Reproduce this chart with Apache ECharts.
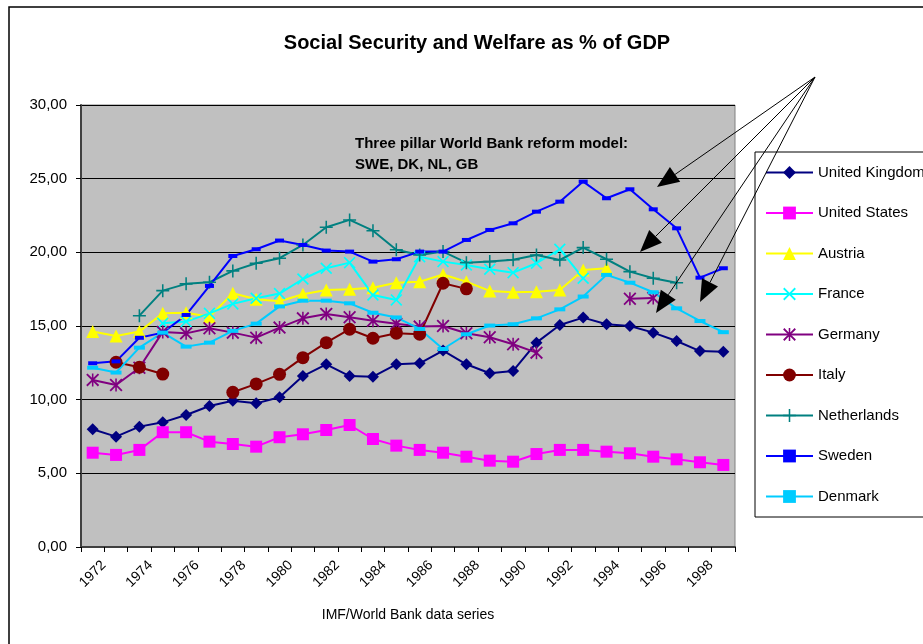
<!DOCTYPE html>
<html>
<head>
<meta charset="utf-8">
<script src="https://cdn.jsdelivr.net/npm/echarts@6/dist/echarts.min.js"></script>
<style>
html, body { margin: 0; padding: 0; background: #fff; }
#chart { width: 923px; height: 644px; }
</style>
</head>
<body>
<div id="chart"></div>
<script>
var years = [];
for (var y = 1972; y <= 1999; y++) years.push(String(y));

var unitedKingdom = [7.99, 7.49, 8.17, 8.46, 8.96, 9.57, 9.93, 9.75, 10.16, 11.6, 12.4, 11.6, 11.56, 12.4, 12.47, 13.33, 12.4, 11.79, 11.95, 13.87, 15.07, 15.57, 15.12, 15.0, 14.55, 13.98, 13.3, 13.26];
var unitedStates = [6.40, 6.25, 6.59, 7.79, 7.79, 7.15, 6.99, 6.81, 7.45, 7.65, 7.94, 8.28, 7.33, 6.88, 6.59, 6.40, 6.13, 5.86, 5.79, 6.31, 6.59, 6.59, 6.47, 6.36, 6.13, 5.95, 5.75, 5.57];
var austria = [14.62, 14.32, 14.62, 15.86, 15.9, 15.63, 17.22, 16.81, 16.68, 17.15, 17.45, 17.49, 17.6, 17.94, 18.0, 18.5, 18.0, 17.38, 17.29, 17.33, 17.45, 18.8, 18.92, null, null, null, null, null];
var france = [null, null, null, 15.18, 15.3, 15.86, 16.5, 16.88, 17.2, 18.19, 18.92, 19.3, 17.1, 16.77, 19.7, 19.37, 19.14, 18.85, 18.62, 19.26, 20.21, 18.24, null, null, null, null, null, null];
var germany = [11.34, 11.0, 12.17, 14.6, 14.5, 14.85, 14.55, 14.21, 14.89, 15.52, 15.82, 15.59, 15.36, 15.16, 14.96, 15.0, 14.51, 14.24, 13.76, 13.19, null, null, null, 16.85, 16.9, null, null, null];
var italy = [null, 12.54, 12.2, 11.74, null, null, 10.5, 11.07, 11.72, 12.85, 13.87, 14.78, 14.17, 14.51, 14.44, 17.9, 17.52, null, null, null, null, null, null, null, null, null, null, null];
var netherlands = [null, null, 15.7, 17.4, 17.86, 17.97, 18.74, 19.26, 19.6, 20.5, 21.7, 22.2, 21.47, 20.18, 19.82, 20.05, 19.3, 19.37, 19.5, 19.82, 19.48, 20.32, 19.53, 18.69, 18.24, 17.94, null, null];
var sweden = [12.47, 12.6, 14.2, 14.55, 15.75, 17.72, 19.75, 20.21, 20.8, 20.5, 20.12, 20.05, 19.37, 19.53, 20.05, 20.05, 20.84, 21.52, 21.97, 22.76, 23.44, 24.8, 23.67, 24.28, 22.92, 21.63, 18.28, 18.92];
var denmark = [12.17, 11.84, 13.53, 14.55, 13.6, 13.87, 14.67, 15.16, 16.33, 16.72, 16.72, 16.54, 15.9, 15.58, 14.8, 13.44, 14.44, 15.03, 15.12, 15.52, 16.13, 17.0, 18.47, 17.94, 17.29, 16.2, 15.34, 14.58];

var FONT = 'Liberation Sans, Arial, sans-serif';

// marker shapes Excel uses
var X_PATH = 'path://M0,0.1L0.1,0L0.5,0.4L0.9,0L1,0.1L0.6,0.5L1,0.9L0.9,1L0.5,0.6L0.1,1L0,0.9L0.4,0.5Z';
var STAR_PATH = X_PATH + 'M0.44,0L0.56,0L0.56,1L0.44,1Z';
var PLUS_PATH = 'path://M0.44,0L0.56,0L0.56,0.44L1,0.44L1,0.56L0.56,0.56L0.56,1L0.44,1L0.44,0.56L0,0.56L0,0.44L0.44,0.44Z';

function makeSeries(name, data, color, symbol, size) {
	return {
		name: name,
		type: 'line',
		data: data,
		symbol: symbol,
		symbolSize: size,
		showAllSymbol: true,
		connectNulls: false,
		lineStyle: { color: color, width: 2 },
		itemStyle: { color: color },
		emphasis: { disabled: true },
		animation: false
	};
}

// arrow from a common point to a tip, drawn with graphic
function arrow(x1, y1, x2, y2) {
	var dx = x2 - x1, dy = y2 - y1;
	var len = Math.sqrt(dx * dx + dy * dy);
	var ux = dx / len, uy = dy / len;
	var hl = 22, hw = 9;
	var bx = x2 - ux * hl, by = y2 - uy * hl;
	return [
		{ type: 'line', shape: { x1: x1, y1: y1, x2: bx, y2: by }, style: { stroke: '#000', lineWidth: 1 }, z: 100 },
		{ type: 'polygon', shape: { points: [[x2, y2], [bx - uy * hw, by + ux * hw], [bx + uy * hw, by - ux * hw]] }, style: { fill: '#000' }, z: 100 }
	];
}

var graphics = [
	{ type: 'rect', shape: { x: 9, y: 7, width: 1000, height: 700 }, style: { fill: 'none', stroke: '#000', lineWidth: 1.5 }, z: -1 },
	{ type: 'rect', shape: { x: 755, y: 152, width: 300, height: 365 }, style: { fill: '#fff', stroke: '#000', lineWidth: 1 }, z: 0 },
	{ type: 'text', left: 355, top: 136, style: { text: 'Three pillar World Bank reform model:', font: 'bold 15px ' + FONT, fill: '#000' }, z: 50 },
	{ type: 'text', left: 355, top: 157, style: { text: 'SWE, DK, NL, GB', font: 'bold 15px ' + FONT, fill: '#000' }, z: 50 }
];
graphics = graphics.concat(arrow(815, 77, 657, 187), arrow(815, 77, 640, 252), arrow(815, 77, 656, 313), arrow(815, 77, 700, 302));

var chart = echarts.init(document.getElementById('chart'));
var option = {
	backgroundColor: '#fff',
	textStyle: { fontFamily: FONT },
	title: {
		text: 'Social Security and Welfare as % of GDP',
		left: 472,
		textAlign: 'center',
		top: 28,
		textStyle: { fontSize: 20, fontWeight: 'bold', color: '#000', fontFamily: FONT }
	},
	legend: {
		orient: 'vertical',
		left: 760,
		top: 160,
		itemWidth: 47,
		itemHeight: 16,
		itemGap: 25.5,
		textStyle: { fontSize: 15, color: '#000', fontFamily: FONT },
		data: ['United Kingdom', 'United States', 'Austria', 'France', 'Germany', 'Italy', 'Netherlands', 'Sweden', 'Denmark']
	},
	grid: {
		left: 81,
		right: 188,
		top: 105,
		bottom: 97,
		show: true,
		backgroundColor: '#c0c0c0',
		borderColor: '#808080',
		borderWidth: 1
	},
	xAxis: {
		type: 'category',
		data: years,
		boundaryGap: true,
		name: 'IMF/World Bank data series',
		nameLocation: 'middle',
		nameGap: 61,
		nameTextStyle: { fontSize: 14, color: '#000', fontFamily: FONT },
		axisLine: { lineStyle: { color: '#404040', width: 2 } },
		axisTick: { show: true, interval: 0, length: 5, lineStyle: { color: '#000' } },
		axisLabel: { interval: 1, rotate: 45, align: 'center', verticalAlign: 'middle', fontSize: 14, color: '#000', margin: 27 },
		splitLine: { show: false }
	},
	yAxis: {
		type: 'value',
		min: 0,
		max: 30,
		interval: 5,
		axisLine: { show: true, lineStyle: { color: '#404040', width: 2 } },
		axisTick: { show: true, length: 5, lineStyle: { color: '#000' } },
		axisLabel: {
			fontSize: 15,
			color: '#000',
			margin: 14,
			formatter: function (v) { return v.toFixed(2).replace('.', ','); }
		},
		splitLine: { show: true, lineStyle: { color: '#000', width: 1 } }
	},
	series: [
		makeSeries('United Kingdom', unitedKingdom, '#000080', 'diamond', 12),
		makeSeries('United States', unitedStates, '#ff00ff', 'rect', 12),
		makeSeries('Austria', austria, '#ffff00', 'triangle', 13),
		makeSeries('France', france, '#00ffff', X_PATH, 12),
		makeSeries('Germany', germany, '#800080', STAR_PATH, 13),
		makeSeries('Italy', italy, '#800000', 'circle', 13),
		makeSeries('Netherlands', netherlands, '#008080', PLUS_PATH, 13),
		makeSeries('Sweden', sweden, '#0000ff', 'rect', [9, 4]),
		makeSeries('Denmark', denmark, '#00ccff', 'rect', [11, 4])
	],
	graphic: graphics
};
chart.setOption(option);
</script>
</body>
</html>
